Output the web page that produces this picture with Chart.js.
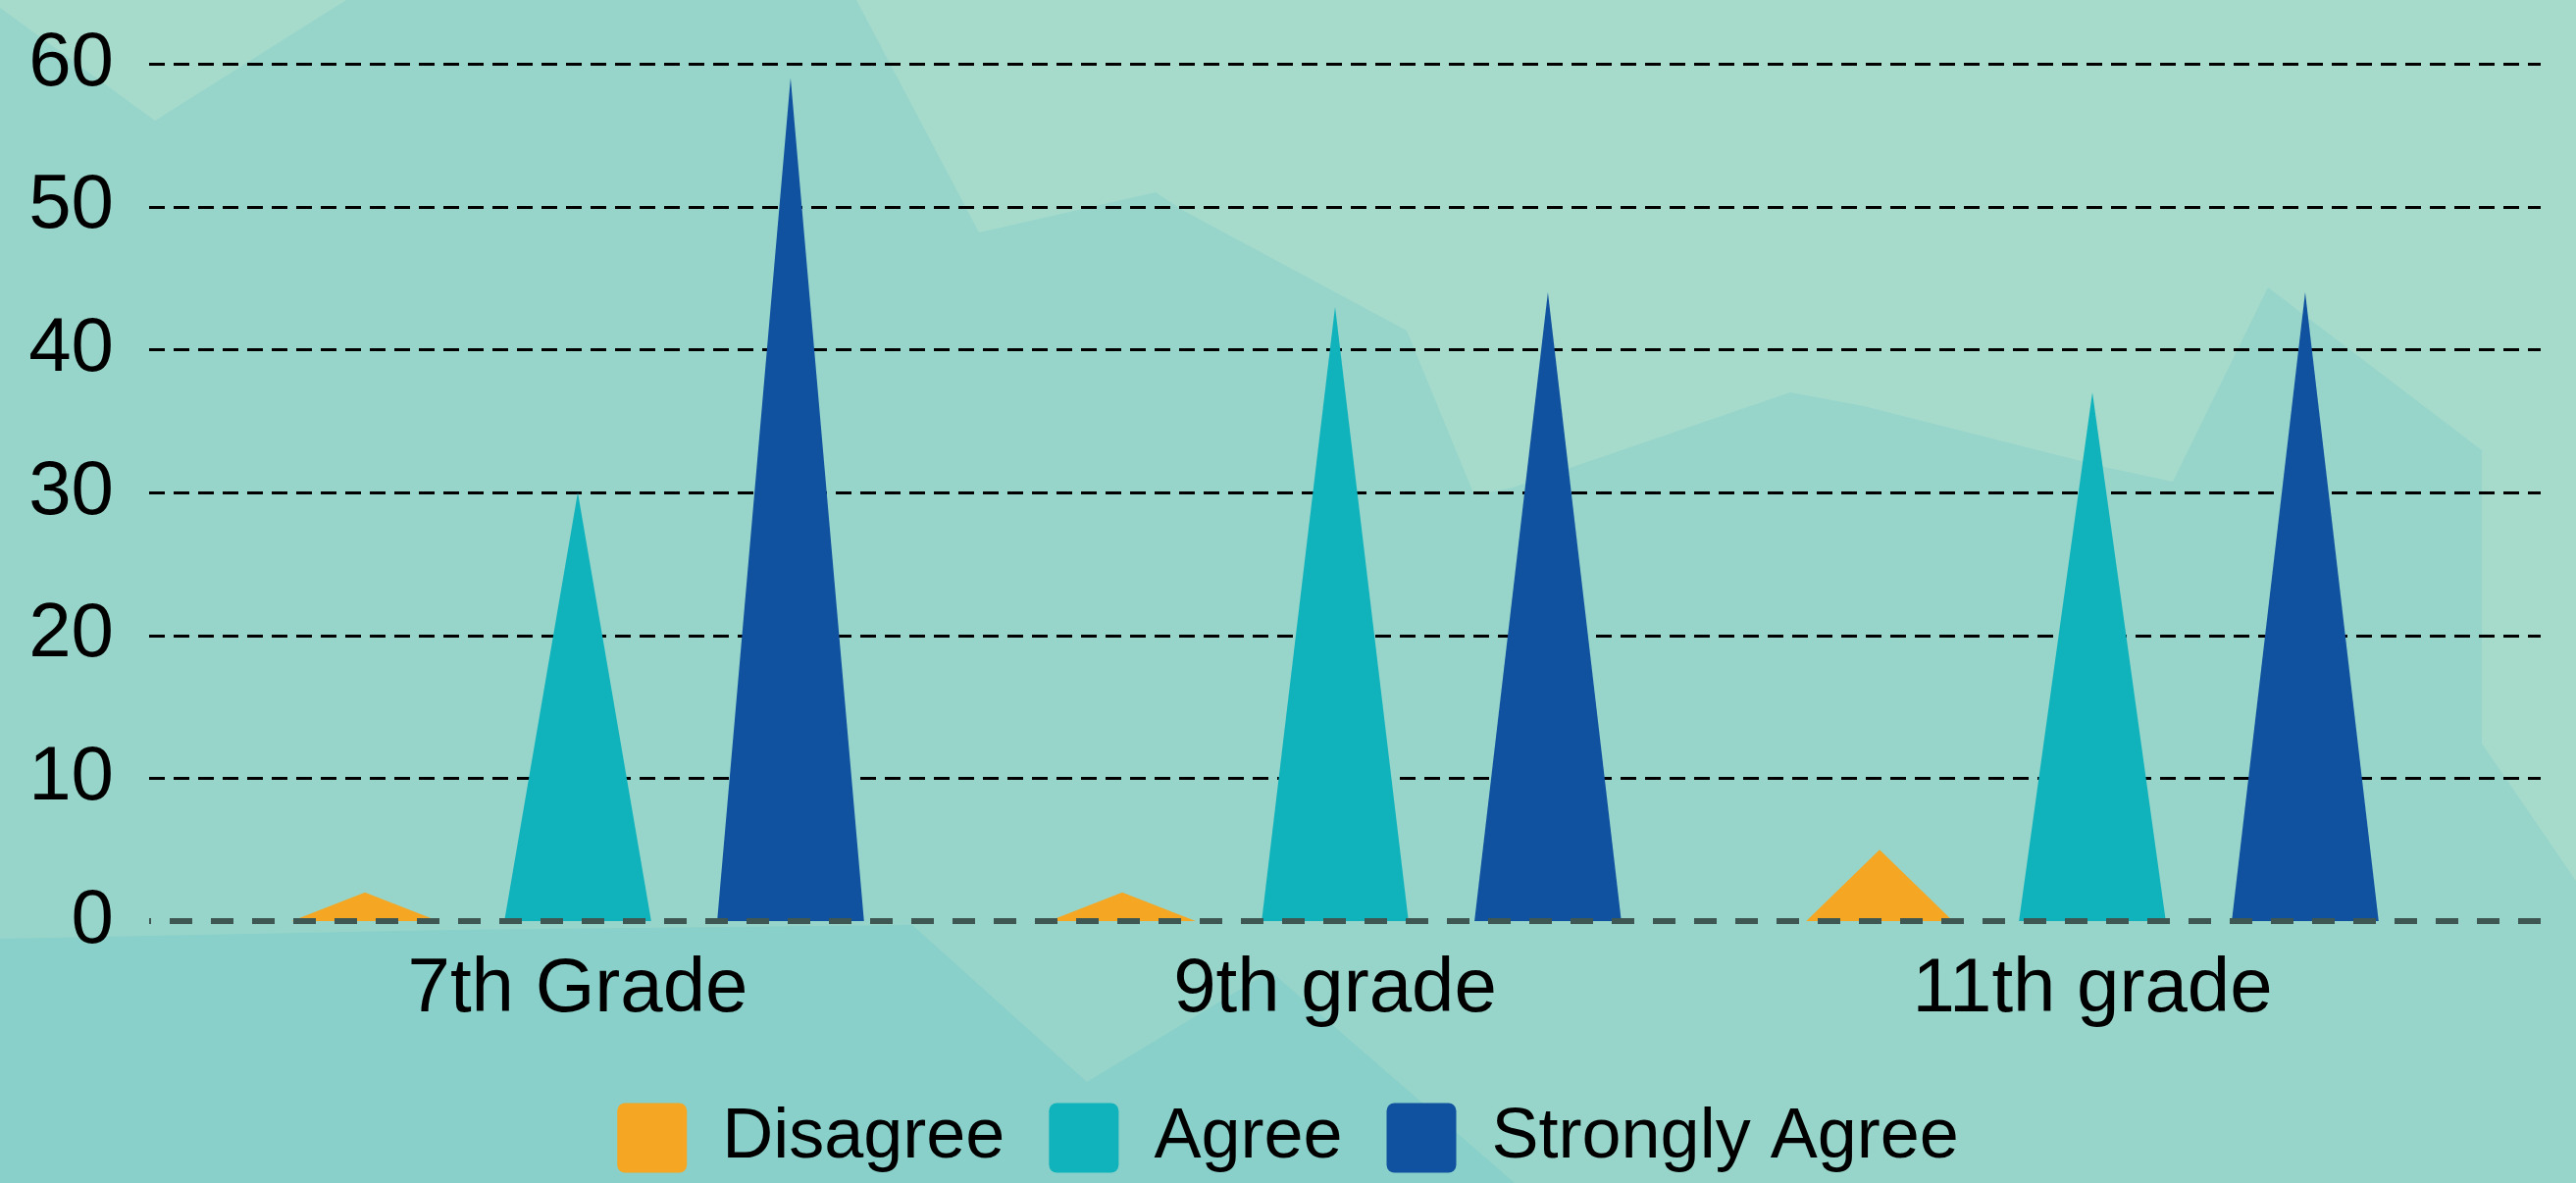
<!DOCTYPE html>
<html>
<head>
<meta charset="utf-8">
<style>
  html, body { margin: 0; padding: 0; background: #97D5CB; }
  canvas { display: block; }
</style>
<script src="https://cdn.jsdelivr.net/npm/chart.js@4.4.1/dist/chart.umd.min.js"></script>
</head>
<body>
<canvas id="spikeChart" width="2626" height="1206"></canvas>
<script>
const categories = ['7th Grade', '9th grade', '11th grade'];
const disagree = [2, 2, 5];
const agree = [30, 43, 37];
const stronglyAgree = [59, 44, 44];
const yTicks = [0, 10, 20, 30, 40, 50, 60];

const seriesNames = ['Disagree', 'Agree', 'Strongly Agree'];
const seriesColors = ['#F5A623', '#10B3BB', '#10529F'];

const fontFamily = "'Liberation Sans', Arial, sans-serif";

// background decoration (light/dark facets behind the chart)
const bgPlugin = {
    id: 'bgFacets',
    beforeDraw: (chart) => {
        const ctx = chart.ctx;
        const poly = (pts, color) => {
            ctx.beginPath();
            ctx.moveTo(pts[0][0], pts[0][1]);
            pts.slice(1).forEach(p => ctx.lineTo(p[0], p[1]));
            ctx.closePath();
            ctx.fillStyle = color;
            ctx.fill();
        };
        ctx.save();
        ctx.fillStyle = '#97D5CB';
        ctx.fillRect(0, 0, chart.width, chart.height);
        poly([[0, 0], [353, 0], [158, 123], [0, 8]], '#A6DBCC');
        poly([[873, 0], [2626, 0], [2626, 898], [2530, 758], [2530, 459], [2312, 293],
              [2215, 491], [2145, 476], [1900, 414], [1825, 400], [1542, 497], [1503, 505],
              [1434, 337], [1205, 214], [1178, 196], [1029, 230], [998, 237]], '#A6DBCC');
        poly([[0, 957], [460, 948], [930, 943], [1108, 1103], [1295, 990], [1544, 1206], [0, 1206]], '#88D0C9');
        ctx.restore();
    }
};

// dashed gridlines + spike (triangle) bars + grey zero line
const spikePlugin = {
    id: 'spikes',
    beforeDatasetsDraw: (chart) => {
        const ctx = chart.ctx;
        const y = chart.scales.y;
        const area = chart.chartArea;
        ctx.save();
        ctx.strokeStyle = '#000000';
        ctx.lineWidth = 3;
        ctx.setLineDash([16, 9]);
        yTicks.filter(v => v > 0).forEach(v => {
            const py = Math.round(y.getPixelForValue(v)) + 0.5;
            ctx.beginPath();
            ctx.moveTo(area.left - 51, py);
            ctx.lineTo(area.right + 71, py);
            ctx.stroke();
        });
        ctx.restore();
    },
    beforeDatasetDraw: () => false,
    afterDatasetsDraw: (chart) => {
        const ctx = chart.ctx;
        ctx.save();
        chart.data.datasets.forEach((ds, i) => {
            const meta = chart.getDatasetMeta(i);
            meta.data.forEach(bar => {
                const p = bar.getProps(['x', 'y', 'base', 'width'], true);
                ctx.beginPath();
                ctx.moveTo(p.x - p.width / 2, p.base);
                ctx.lineTo(p.x, p.y);
                ctx.lineTo(p.x + p.width / 2, p.base);
                ctx.closePath();
                ctx.fillStyle = ds.backgroundColor;
                ctx.fill();
            });
        });
        const area = chart.chartArea;
        const zeroY = chart.scales.y.getPixelForValue(0);
        ctx.strokeStyle = '#3E5753';
        ctx.lineWidth = 6;
        ctx.setLineDash([23, 19]);
        ctx.lineDashOffset = -21;
        ctx.beginPath();
        ctx.moveTo(area.left - 51, zeroY);
        ctx.lineTo(area.right + 71, zeroY);
        ctx.stroke();
        ctx.restore();
    }
};

const ctx = document.querySelector('#spikeChart').getContext('2d');

new Chart(ctx, {
    type: 'bar',
    data: {
        labels: categories,
        datasets: [disagree, agree, stronglyAgree].map((vals, i) => ({
            label: seriesNames[i],
            data: vals,
            backgroundColor: seriesColors[i],
            borderWidth: 0,
            categoryPercentage: 0.843,
            barPercentage: 0.69
        }))
    },
    options: {
        responsive: false,
        animation: false,
        layout: { padding: { top: 65, left: 0, right: 0, bottom: 0 } },
        scales: {
            x: {
                grid: { display: false, drawTicks: false },
                border: { display: false },
                ticks: {
                    color: '#000000',
                    padding: 24,
                    font: { family: fontFamily, size: 78 }
                },
                afterFit: (scale) => { scale.height = 140; }
            },
            y: {
                min: 0,
                max: 60,
                grid: { display: false, drawTicks: false },
                border: { display: false },
                ticks: {
                    stepSize: 10,
                    color: '#000000',
                    padding: 87,
                    font: { family: fontFamily, size: 78 },
                    callback: (value) => yTicks.includes(value) ? value : ''
                },
                afterFit: (scale) => {
                    scale.width = 203;
                    // big label padding should not push the plot down
                    scale.paddingTop = 0;
                    scale.paddingBottom = 0;
                }
            },
            // empty right axis, only reserves space on the right
            yRight: {
                position: 'right',
                min: 0,
                max: 60,
                grid: { display: false, drawTicks: false },
                border: { display: false },
                ticks: { display: false },
                afterFit: (scale) => { scale.width = 107; }
            }
        },
        plugins: {
            legend: {
                position: 'bottom',
                labels: {
                    color: '#000000',
                    boxWidth: 71,
                    boxHeight: 71,
                    useBorderRadius: true,
                    borderRadius: 8,
                    padding: 45,
                    font: { family: fontFamily, size: 72 }
                }
            },
            tooltip: { enabled: false }
        }
    },
    plugins: [bgPlugin, spikePlugin]
});
</script>
</body>
</html>
